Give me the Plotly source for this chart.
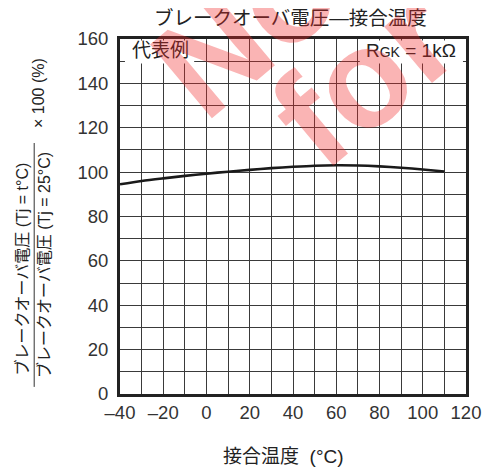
import plotly.graph_objects as go

# Data
temp_c = [-40, -30, -20, -10, 0, 10, 20, 30, 40, 50, 60, 70, 80, 90, 100, 110]
ratio_pct = [94.5, 96.0, 97.2, 98.3, 99.3, 100.2, 101.0, 101.8, 102.4, 102.9, 103.1, 103.0, 102.6, 102.0, 101.2, 100.3]

x_tickvals = [-40, -20, 0, 20, 40, 60, 80, 100, 120]
x_ticktext = ["–40", "–20", "0", "20", "40", "60", "80", "100", "120"]
x_minor = [-30, -10, 10, 30, 50, 70, 90, 110]
y_tickvals = [0, 20, 40, 60, 80, 100, 120, 140, 160]
y_ticktext = ["0", "20", "40", "60", "80", "100", "120", "140", "160"]
y_minor = [10, 30, 50, 70, 90, 110, 130, 150]

title_text = "ブレークオーバ電圧—接合温度"
x_title = "接合温度 \u00a0(°C)"
y_num = "ブレークオーバ電圧 (Tj = t°C)"
y_den = "ブレークオーバ電圧 (Tj = 25°C)"
y_mult = "× 100 (%)"
note_left = "代表例"
note_right = "R<span style='font-size:14px'>GK</span> = 1kΩ"

FONT = "Liberation Sans, Arial, Noto Sans CJK JP, sans-serif"
GRID = "#3a3a3a"
TXT = "#333333"
WM = "rgba(240,40,40,0.35)"

fig = go.Figure()
fig.add_trace(go.Scatter(
    x=temp_c, y=ratio_pct, mode="lines",
    line=dict(color="#1a1a1a", width=2.6, shape="spline", smoothing=0.8),
    hoverinfo="skip", showlegend=False,
))

axis_common = dict(
    showgrid=True, gridcolor=GRID, gridwidth=1,
    showline=True, mirror=True, linecolor="#222222", linewidth=3,
    ticks="", zeroline=False,
    tickfont=dict(family=FONT, size=18.5, color=TXT),
)

fig.update_xaxes(
    range=[-40, 120], tickmode="array", tickvals=x_tickvals, ticktext=x_ticktext,
    minor=dict(tickmode="array", tickvals=x_minor, showgrid=True, gridcolor=GRID, gridwidth=1),
    **axis_common,
)
fig.update_yaxes(
    range=[0, 160], tickmode="array", tickvals=y_tickvals, ticktext=y_ticktext,
    minor=dict(tickmode="array", tickvals=y_minor, showgrid=True, gridcolor=GRID, gridwidth=1),
    ticklabelstandoff=5,
    **axis_common,
)

shapes = [
    dict(type="rect", xref="x", yref="y", x0=-37.7, x1=-5.7, y0=149.0, y1=159.3,
         fillcolor="white", line=dict(width=0), layer="between"),
    dict(type="rect", xref="x", yref="y", x0=70.9, x1=118.6, y0=149.0, y1=159.3,
         fillcolor="white", line=dict(width=0), layer="between"),
    dict(type="line", xref="paper", yref="paper", x0=-0.248, x1=-0.248, y0=0.02, y1=0.707,
         line=dict(color=TXT, width=1)),
]


def ann(text, x, y, size, xref="paper", yref="paper", angle=0, color="#222",
        xanchor="center", family=FONT):
    return dict(text=text, xref=xref, yref=yref, x=x, y=y, textangle=angle,
                xanchor=xanchor, yanchor="middle", showarrow=False,
                font=dict(family=family, size=size, color=color))


annotations = [
    ann(title_text, 0.493, 1.059, 19.5),
    ann(x_title, 0.473, -0.175, 19),
    ann(y_num, -0.2845, 0.352, 16, angle=-90),
    ann(y_den, -0.2197, 0.363, 16, angle=-90),
    ann(y_mult, -0.234, 0.848, 16, angle=-90),
    ann(note_left, -35.5, 154.6, 19, xref="x", yref="y", xanchor="left"),
    ann(note_right, 116.4, 154.6, 19, xref="x", yref="y", xanchor="right"),
    # red watermark
    ann("<b>Not</b>", 0.411, 1.076, 140, angle=-40, color=WM, family="Liberation Sans, Arial"),
    ann("<b>for new</b>", 1.051, 1.175, 140, angle=-40, color=WM, family="Liberation Sans, Arial"),
]

fig.update_layout(
    width=485, height=462, autosize=False,
    margin=dict(l=112, r=18, t=31, b=76),
    paper_bgcolor="white", plot_bgcolor="white",
    shapes=shapes, annotations=annotations,
    showlegend=False,
)

fig.write_html("out.html")
